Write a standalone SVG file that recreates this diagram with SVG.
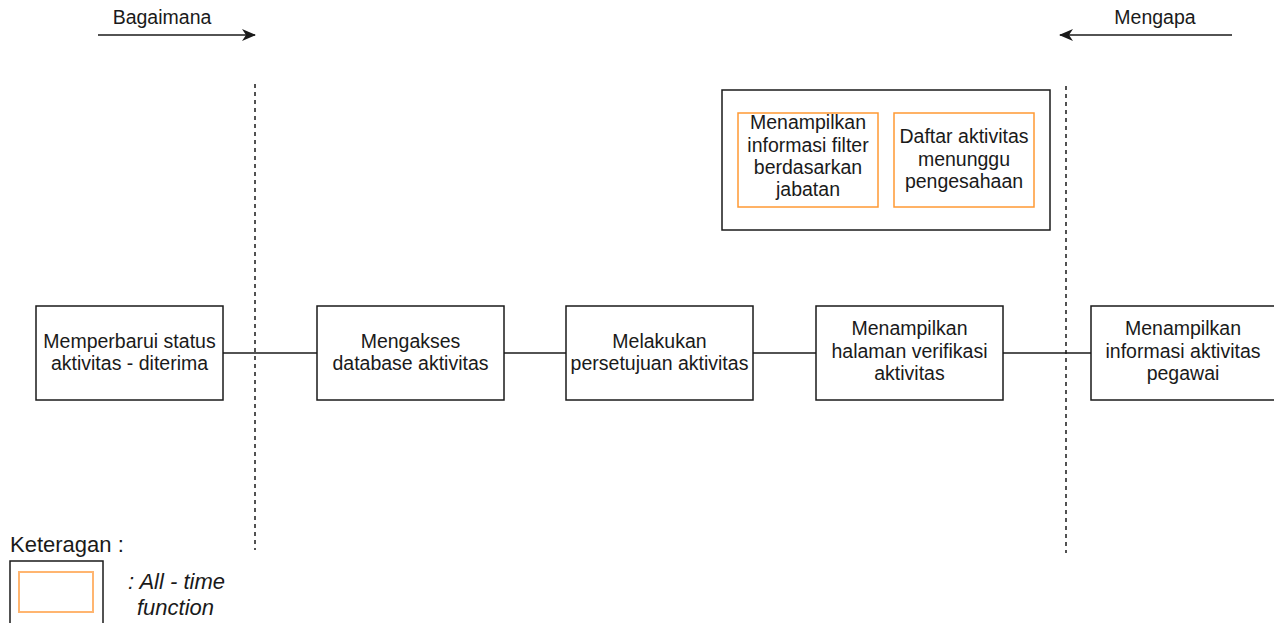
<svg xmlns="http://www.w3.org/2000/svg" width="1274" height="623" viewBox="0 0 1274 623">
  <defs>
    <style>
      .t { font-family: "Liberation Sans", Arial, sans-serif; font-size: 19.5px; fill: #1a1a1a; text-anchor: middle; }
      .tl { font-family: "Liberation Sans", Arial, sans-serif; font-size: 22px; fill: #1a1a1a; }
      .it { font-style: italic; }
      .box { fill: #ffffff; stroke: #1a1a1a; stroke-width: 1.5; }
      .obox { fill: #ffffff; stroke: #ff9933; stroke-width: 1.5; }
      .edge { fill: none; stroke: #1a1a1a; stroke-width: 1.5; }
      .dash { fill: none; stroke: #1a1a1a; stroke-width: 1.5; stroke-dasharray: 4 4; }
    </style>
    <marker id="arrow" viewBox="0 0 14 12" refX="13" refY="6" markerWidth="14" markerHeight="12" markerUnits="userSpaceOnUse" orient="auto">
      <path d="M0,0 L14,6 L0,12 L4,6 Z" fill="#1a1a1a"/>
    </marker>
  </defs>
  <rect width="1274" height="623" fill="#ffffff"/>

  <!-- direction headers -->
  <g id="header-bagaimana">
    <text class="t" x="162" y="24">Bagaimana</text>
    <line class="edge" x1="98" y1="35" x2="255" y2="35" marker-end="url(#arrow)"/>
  </g>
  <g id="header-mengapa">
    <text class="t" x="1155" y="24">Mengapa</text>
    <line class="edge" x1="1232" y1="35" x2="1060" y2="35" marker-end="url(#arrow)"/>
  </g>

  <!-- scope boundaries -->
  <g id="boundaries">
    <line class="dash" x1="255" y1="84" x2="255" y2="550"/>
    <line class="dash" x1="1066" y1="86" x2="1066" y2="553"/>
  </g>

  <!-- connectors -->
  <g id="connectors">
    <line class="edge" x1="223" y1="353" x2="317" y2="353"/>
    <line class="edge" x1="504" y1="353" x2="566" y2="353"/>
    <line class="edge" x1="753" y1="353" x2="816" y2="353"/>
    <line class="edge" x1="1003" y1="353" x2="1091" y2="353"/>
  </g>

  <!-- function nodes -->
  <g id="node-memperbarui">
    <rect class="box" x="36" y="306" width="187" height="94"/>
    <text class="t" x="129.5" y="348">Memperbarui status</text>
    <text class="t" x="129.5" y="370">aktivitas - diterima</text>
  </g>
  <g id="node-mengakses">
    <rect class="box" x="317" y="306" width="187" height="94"/>
    <text class="t" x="410.5" y="348">Mengakses</text>
    <text class="t" x="410.5" y="370">database aktivitas</text>
  </g>
  <g id="node-persetujuan">
    <rect class="box" x="566" y="306" width="187" height="94"/>
    <text class="t" x="659.5" y="348">Melakukan</text>
    <text class="t" x="659.5" y="370">persetujuan aktivitas</text>
  </g>
  <g id="node-verifikasi">
    <rect class="box" x="816" y="306" width="187" height="94"/>
    <text class="t" x="909.5" y="335">Menampilkan</text>
    <text class="t" x="909.5" y="358">halaman verifikasi</text>
    <text class="t" x="909.5" y="380">aktivitas</text>
  </g>
  <g id="node-informasi">
    <rect class="box" x="1091" y="306" width="190" height="94"/>
    <text class="t" x="1183" y="335">Menampilkan</text>
    <text class="t" x="1183" y="358">informasi aktivitas</text>
    <text class="t" x="1183" y="380">pegawai</text>
  </g>

  <!-- all-time functions group -->
  <g id="group-all-time">
    <rect class="box" x="722" y="90" width="328" height="140"/>
  </g>
  <g id="node-filter-jabatan">
    <rect class="obox" x="738" y="113" width="140" height="94"/>
    <text class="t" x="808" y="129">Menampilkan</text>
    <text class="t" x="808" y="152">informasi filter</text>
    <text class="t" x="808" y="174">berdasarkan</text>
    <text class="t" x="808" y="196">jabatan</text>
  </g>
  <g id="node-daftar-menunggu">
    <rect class="obox" x="894" y="113" width="140" height="94"/>
    <text class="t" x="964" y="143">Daftar aktivitas</text>
    <text class="t" x="964" y="166">menunggu</text>
    <text class="t" x="964" y="188">pengesahaan</text>
  </g>

  <!-- legend -->
  <g id="legend">
    <text class="tl" x="10" y="552">Keteragan :</text>
    <rect class="box" x="10" y="561" width="93" height="70"/>
    <rect x="19" y="572" width="74" height="40" fill="#ffffff" stroke="#ffb570" stroke-width="2"/>
    <text class="tl it" x="128" y="589">: All - time</text>
    <text class="tl it" x="137" y="615">function</text>
  </g>
</svg>
